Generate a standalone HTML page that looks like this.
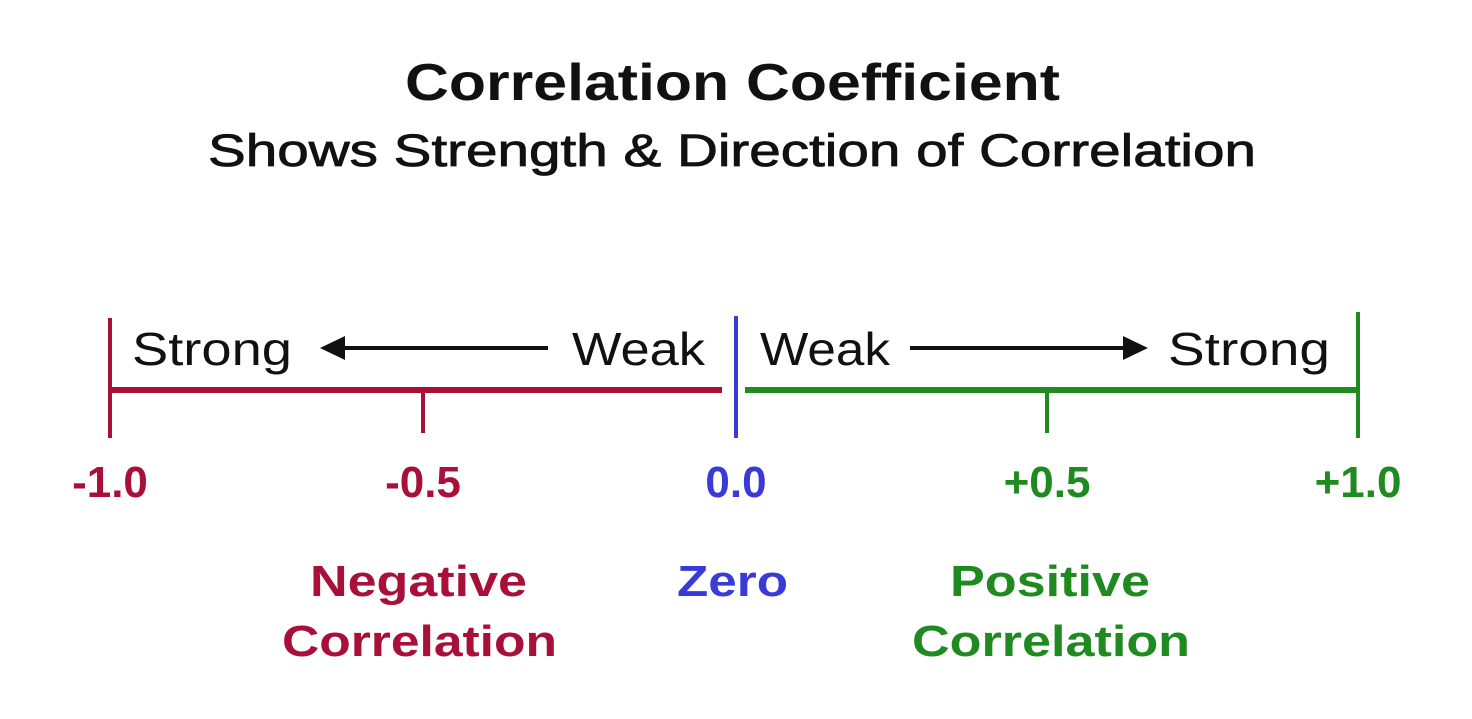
<!DOCTYPE html>
<html><head><meta charset="utf-8"><style>
html,body{margin:0;padding:0;background:#fff;}
svg text{font-family:"Liberation Sans",Arial,sans-serif;}
</style></head><body>
<svg width="1472" height="714" viewBox="0 0 1472 714">
<text x="405" y="100" textLength="655" lengthAdjust="spacingAndGlyphs" font-size="52" font-weight="bold" fill="#111">Correlation Coefficient</text>
<text x="208" y="166" textLength="1048" lengthAdjust="spacingAndGlyphs" font-size="45" fill="#111" stroke="#111" stroke-width="0.8">Shows Strength &amp; Direction of Correlation</text>
<g id="axis"></g>
<text x="132" y="365" textLength="160" lengthAdjust="spacingAndGlyphs" font-size="46" fill="#111">Strong</text>
<text x="572" y="365" textLength="133" lengthAdjust="spacingAndGlyphs" font-size="46" fill="#111">Weak</text>
<text x="760" y="365" textLength="130" lengthAdjust="spacingAndGlyphs" font-size="46" fill="#111">Weak</text>
<text x="1168" y="365" textLength="162" lengthAdjust="spacingAndGlyphs" font-size="46" fill="#111">Strong</text>
<line x1="548" y1="348" x2="340" y2="348" stroke="#111" stroke-width="4"/>
<polygon points="320,348 345,336 345,360" fill="#111"/>
<line x1="910" y1="348" x2="1125" y2="348" stroke="#111" stroke-width="4"/>
<polygon points="1148,348 1123,336 1123,360" fill="#111"/>
<text x="310" y="596" textLength="217" lengthAdjust="spacingAndGlyphs" font-size="44" font-weight="bold" fill="#a8103a">Negative</text>
<text x="282" y="656" textLength="275" lengthAdjust="spacingAndGlyphs" font-size="44" font-weight="bold" fill="#a8103a">Correlation</text>
<text x="677" y="596" textLength="111" lengthAdjust="spacingAndGlyphs" font-size="44" font-weight="bold" fill="#3a3ad8">Zero</text>
<text x="950" y="596" textLength="200" lengthAdjust="spacingAndGlyphs" font-size="44" font-weight="bold" fill="#1f8a1f">Positive</text>
<text x="912" y="656" textLength="278" lengthAdjust="spacingAndGlyphs" font-size="44" font-weight="bold" fill="#1f8a1f">Correlation</text>
</svg>
<script>
const tickValues = [-1, -0.5, 0, 0.5, 1];
const tickLabels = ["-1.0", "-0.5", "0.0", "+0.5", "+1.0"];
const RED="#a8103a", BLUE="#3a3ad8", GREEN="#1f8a1f";
function xs(v){ return v<0 ? 736 + v*626 : 736 + v*622; }
const g=document.getElementById('axis');
const NS="http://www.w3.org/2000/svg";
function ln(x1,y1,x2,y2,c,w,name){const l=document.createElementNS(NS,'line');
l.setAttribute('x1',x1);l.setAttribute('y1',y1);l.setAttribute('x2',x2);l.setAttribute('y2',y2);
l.setAttribute('stroke',c);l.setAttribute('stroke-width',w);


g.appendChild(l);}
ln(xs(-1),390,xs(0)-14,390,RED,6,'negative-range-line');
ln(xs(0)+9,390,xs(1),390,GREEN,6,'positive-range-line');
tickValues.forEach((v,i)=>{
  const x=xs(v);
  const c=v<0?RED:(v>0?GREEN:BLUE);
  const full=Math.abs(v)===1||v===0;
  ln(x, full?(v===0?316:(v>0?312:318)):390, x, full?438:433, c, 4, 'tick-'+tickLabels[i]);
  const t=document.createElementNS(NS,'text');
  t.setAttribute('x', x);t.setAttribute('y', 497);
  t.setAttribute('text-anchor','middle');t.setAttribute('font-size','44');
  t.setAttribute('font-weight','bold');t.setAttribute('fill',c);
  
  
  t.textContent=tickLabels[i];
  g.appendChild(t);
});
</script>
</body></html>
